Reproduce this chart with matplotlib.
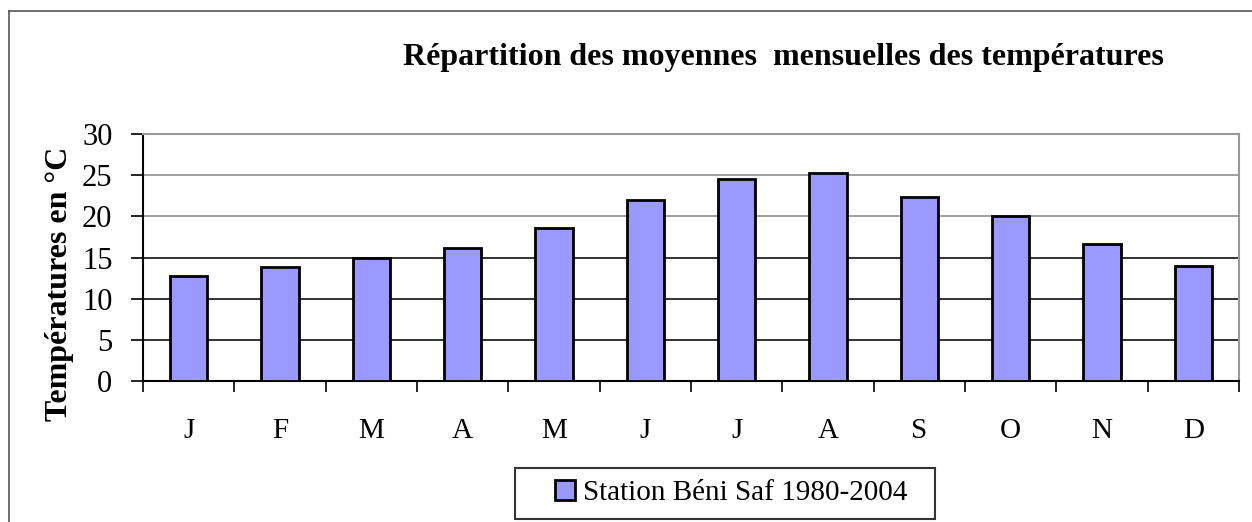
import matplotlib
matplotlib.use("Agg")
import matplotlib.pyplot as plt
from matplotlib.lines import Line2D
from matplotlib.patches import Rectangle
import numpy as np

months = ["J", "F", "M", "A", "M", "J", "J", "A", "S", "O", "N", "D"]
temperatures = [12.8, 13.9, 15.0, 16.1, 18.6, 22.0, 24.5, 25.3, 22.4, 20.0, 16.6, 14.0]
series_label = "Station Béni Saf 1980-2004"
title = "Répartition des moyennes  mensuelles des températures"
ylabel = "Températures en °C"
yticks = [0, 5, 10, 15, 20, 25, 30]

plt.rcParams['font.family'] = ['Liberation Serif', 'DejaVu Serif']

W, H = 1252, 522
fig = plt.figure(figsize=(W / 100, H / 100), dpi=100)
fig.patch.set_facecolor("white")

ax = fig.add_axes([143 / W, 1 - 381 / H, 1096 / W, 247 / H])
x = np.arange(len(months))
ax.bar(x, temperatures, width=0.41, color="#9999FF", edgecolor="black",
       linewidth=2, label=series_label, zorder=3)

ax.set_xlim(-0.5, len(months) - 0.5)
ax.set_ylim(0, 30)
ax.set_yticks(yticks)
ax.set_yticklabels([str(v) for v in yticks], fontsize=22)
ax.set_xticks(x)
ax.set_xticklabels(months, fontsize=21)
ax.set_xticks(np.arange(-0.5, len(months), 1.0), minor=True)
ax.tick_params(axis="x", which="major", length=0, pad=27)
ax.tick_params(axis="x", which="minor", length=8, width=1.2, direction="out", color="black")
ax.tick_params(axis="y", which="major", length=9, width=1.2, direction="out", pad=13, color="black")

# gridlines
grid_colors = {5: "#222222", 10: "#222222", 15: "#222222", 20: "#999999", 25: "#999999"}
for yv in yticks[1:-1]:
    ax.axhline(yv, color=grid_colors[yv], linewidth=1.3, zorder=1)

for side in ["left", "bottom"]:
    ax.spines[side].set_color("black")
    ax.spines[side].set_linewidth(1.5)
for side in ["top", "right"]:
    ax.spines[side].set_color("#999999")
    ax.spines[side].set_linewidth(1.5)

fig.text(783 / W, 1 - 57 / H, title, ha="center", va="center",
         fontsize=23, fontweight="bold")
fig.text(60 / W, 1 - 284 / H, ylabel, ha="center", va="center",
         rotation=90, fontsize=23, fontweight="bold")

# legend (frame drawn separately for Excel-like padding)
fig.add_artist(Rectangle((515 / W, 1 - 519 / H), 420 / W, 51 / H,
                         transform=fig.transFigure, facecolor="white",
                         edgecolor="#333333", linewidth=1.5, zorder=4))
leg = fig.legend(loc="center", bbox_to_anchor=(731 / W, 1 - 493 / H),
                 fontsize=21, frameon=False,
                 handlelength=0.7, handleheight=0.7, handletextpad=0.25,
                 borderpad=0.0, borderaxespad=0)
leg.set_zorder(5)

# outer frame
fig.add_artist(Line2D([9 / W, 9 / W], [0, 1 - 11 / H], transform=fig.transFigure,
                      color="#555555", linewidth=1.2))
fig.add_artist(Line2D([9 / W, 1], [1 - 11 / H, 1 - 11 / H], transform=fig.transFigure,
                      color="#555555", linewidth=1.2))

fig.savefig("out.png", dpi=100, facecolor="white")
